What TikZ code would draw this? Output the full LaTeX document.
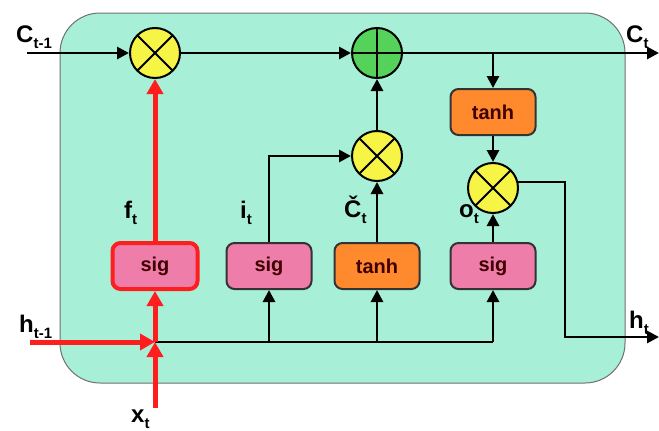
\documentclass[tikz,border=0pt]{standalone}
\usepackage{fontspec}
\setmainfont{Liberation Sans}
\usetikzlibrary{arrows.meta}
\definecolor{mint}{HTML}{A8EFD8}
\definecolor{cyel}{HTML}{F6F545}
\definecolor{cgreen}{HTML}{55D25A}
\definecolor{corange}{HTML}{FF8A2E}
\definecolor{cpink}{HTML}{EE7DAA}
\definecolor{cred}{HTML}{FF1E1E}
\definecolor{cedge}{HTML}{333333}
\newcommand{\mylab}[2]{{\fontsize{24}{24}\selectfont\bfseries #1}{\fontsize{15}{15}\selectfont\bfseries\raisebox{-6pt}{#2}}}
\tikzset{
  arr/.style={line width=2.8pt,-{Triangle[length=12pt,width=12pt]}},
  redarr/.style={line width=5pt,cred,-{Triangle[length=15pt,width=16pt]}},
  gate/.style={rounded corners=8pt,draw=cedge,line width=2pt,minimum width=85pt,minimum height=46pt,
    font=\fontsize{20}{20}\selectfont\bfseries,text=black!75!red},
  mul/.style={circle,draw=black,line width=2pt,fill=cyel,minimum size=50pt,inner sep=0pt,
    path picture={\draw[line width=2pt] (path picture bounding box.north west) -- (path picture bounding box.south east)
      (path picture bounding box.north east) -- (path picture bounding box.south west);}},
  add/.style={circle,draw=black,line width=2pt,fill=cgreen,minimum size=50pt,inner sep=0pt,
    path picture={\draw[line width=2pt] (path picture bounding box.north) -- (path picture bounding box.south)
      (path picture bounding box.east) -- (path picture bounding box.west);}},
  lab/.style={anchor=base west,inner sep=0pt}
}
\begin{document}
\begin{tikzpicture}[x=1pt,y=-1pt]
\useasboundingbox (0,0) rectangle (659,431);
\fill[white] (0,0) rectangle (659,431);
% cell body
\node[draw=cedge!70,line width=1pt,fill=mint,rounded corners=40pt,minimum width=565pt,minimum height=370pt,inner sep=0pt] (cell) at (342.5,198) {};
% operators
\node[mul] (m1) at (155,53) {};
\node[add] (a1) at (377,53) {};
\node[mul] (m2) at (377,156) {};
\node[mul] (m3) at (493,188) {};
% gates
\node[gate,fill=corange] (tc) at (493,112) {tanh};
\node[gate,fill=cpink,draw=cred,line width=4pt] (fs) at (155,266) {sig};
\node[gate,fill=cpink] (is) at (269,266) {sig};
\node[gate,fill=corange] (ct) at (377,266) {tanh};
\node[gate,fill=cpink] (os) at (493,266) {sig};
% coordinates
\coordinate (cin) at (27,53);
\coordinate (cout) at (659,53);
\coordinate (br) at (493,53);
\coordinate (hin) at (30,342);
\coordinate (j) at (155,342);
\coordinate (xin) at (155,408);
\coordinate (jr) at (493,342);
\coordinate (ji) at (269,342);
\coordinate (jc) at (377,342);
\coordinate (m3o) at (517,182);
\coordinate (hk) at (565,337);
\coordinate (hout) at (659,337);
% cell state
\draw[arr] (cin) -- (m1);
\draw[arr] (m1) -- (a1);
\draw[arr] (a1) -- (cout);
\draw[arr] (br) -- (tc);
\draw[arr] (tc) -- (m3);
% input bus
\draw[line width=2.8pt] (j) -- (jr);
\draw[arr] (ji) -- (is);
\draw[arr] (jc) -- (ct);
\draw[arr] (jr) -- (os);
% gate outputs
\draw[arr] (is.north) |- (m2.west);
\draw[arr] (ct) -- (m2);
\draw[arr] (m2) -- (a1);
\draw[arr] (os) -- (m3);
\draw[arr] (m3o) -| (hk) -- (hout);
% forget path (red)
\draw[redarr] (hin) -- (j);
\draw[redarr] (xin) -- (j);
\draw[redarr] (j) -- (fs);
\draw[redarr] (fs) -- (m1);
% labels
\node[lab] (lc0) at (16,42) {\mylab{C}{t-1}};
\node[lab] (lc1) at (626,42) {\mylab{C}{t}};
\node[lab] (lh0) at (19,332) {\mylab{h}{t-1}};
\node[lab] (lx) at (131,422) {\mylab{x}{t}};
\node[lab] (lh1) at (629,328) {\mylab{h}{t}};
\node[lab] (lf) at (124,218) {\mylab{f}{t}};
\node[lab] (li) at (240,218) {\mylab{i}{t}};
\node[lab] (lct) at (344,217) {\mylab{Č}{t}};
\node[lab] (lo) at (459,217) {\mylab{o}{t}};
\end{tikzpicture}
\end{document}
